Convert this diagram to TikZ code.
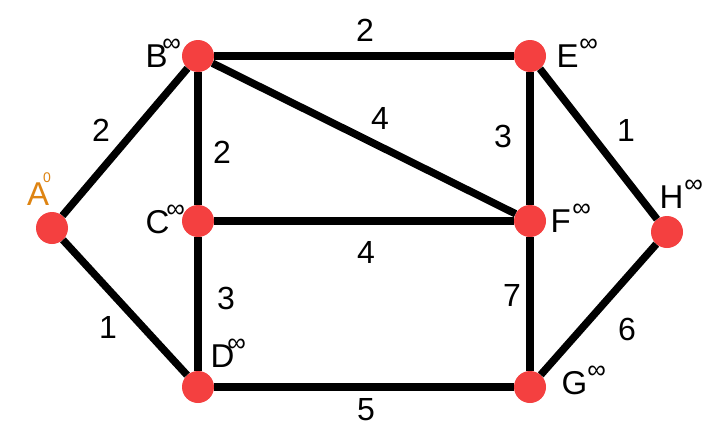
\documentclass[tikz,border=0pt]{standalone}
\usepackage{fontspec}
\setmainfont{Liberation Sans}
\definecolor{vred}{RGB}{244,64,64}
\definecolor{vorange}{RGB}{222,132,18}
\newcommand{\inft}{\raisebox{16pt}{\fontsize{26}{26}\selectfont ∞}}
\tikzset{
    vertex/.style={circle,fill=vred,minimum size=32pt,inner sep=0pt},
    edge/.style={line width=7.5pt},
    lbl/.style={font=\fontsize{32}{36}\selectfont},
    vname/.style={font=\fontsize{33}{36}\selectfont,anchor=base west,inner sep=0pt}
}
\begin{document}
\begin{tikzpicture}[x=1pt,y=-1pt]
    \useasboundingbox[fill=white] (0,0) rectangle (716,442);

    \node[vertex] (a) at (52,228) {};
    \node[vertex] (b) at (198,56) {};
    \node[vertex] (c) at (198,221) {};
    \node[vertex] (d) at (198,387) {};
    \node[vertex] (e) at (530,56) {};
    \node[vertex] (f) at (530,221) {};
    \node[vertex] (g) at (530,387) {};
    \node[vertex] (h) at (667,232) {};

    % vertex names with distances
    \node[vname,text=vorange] (na) at (27,205)
        {A\hspace{-6pt}\raisebox{23pt}{\fontsize{14}{14}\selectfont 0}};
    \foreach \n/\t/\x/\y/\k in {b/B/145.5/67/-5.4,c/C/145.5/233/-3.2,
                                d/D/210.5/367/-7.2,e/E/556.5/67/0.6,
                                f/F/550.5/232/1.4,g/G/561.5/394/0,h/H/659.5/208/0.8}
        {\node[vname] (n\n) at (\x,\y) {\t\hspace{\k pt}\inft};}

    \foreach \u/\v/\w/\x/\y in {b/e/2/365/30,a/b/2/101/130,a/d/1/108/327,
                                b/c/2/222/152,b/f/4/380/118,e/f/3/503/136,
                                c/f/4/366/252,c/d/3/226/298,f/g/7/512/295,
                                d/g/5/366/410,e/h/1/626/130,g/h/6/627/329}
        {\draw[edge] (\u) -- (\v) node[lbl] at (\x,\y) {\w};}
\end{tikzpicture}
\end{document}
